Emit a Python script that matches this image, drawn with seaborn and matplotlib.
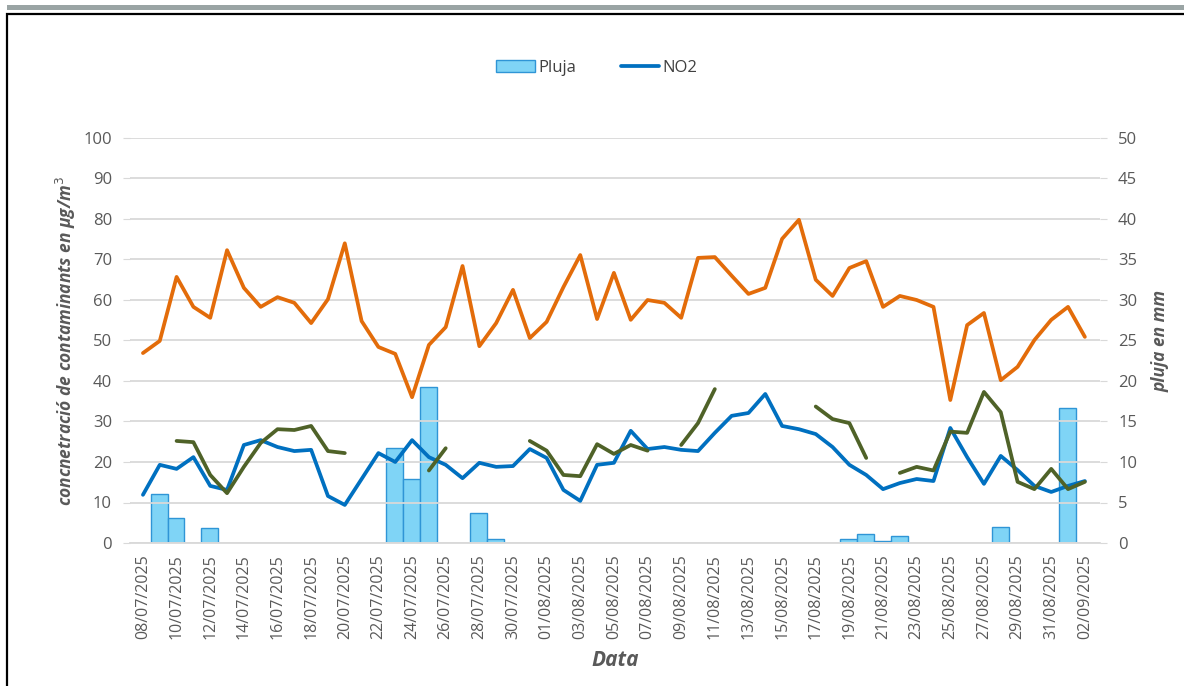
import numpy as np
import pandas as pd
import seaborn as sns
import matplotlib.pyplot as plt
from matplotlib.patches import Rectangle, Patch
from matplotlib.lines import Line2D

# dades diàries 08/07/2025 - 02/09/2025
dates = pd.date_range('2025-07-08', '2025-09-02', freq='D')
etiquetes = [d.strftime('%d/%m/%Y') for d in dates]

o3 = [46.9, 49.9, 65.7, 58.3, 55.6, 72.3, 63.0, 58.3, 60.7, 59.3,
      54.3, 60.2, 74.0, 54.8, 48.4, 46.7, 36.0, 48.9, 53.3, 68.4,
      48.6, 54.3, 62.5, 50.6, 54.6, 63.2, 71.1, 55.3, 66.7, 55.1,
      60.0, 59.3, 55.6, 70.4, 70.6, 66.0, 61.5, 63.0, 75.1, 79.8,
      65.0, 61.0, 67.9, 69.6, 58.3, 61.0, 60.0, 58.3, 35.3, 53.8,
      56.8, 40.2, 43.5, 50.1, 55.1, 58.3, 50.9]

no2 = [11.9, 19.3, 18.3, 21.2, 14.1, 13.1, 24.2, 25.4, 23.7, 22.7,
       23.0, 11.6, 9.4, 15.8, 22.2, 20.0, 25.4, 21.2, 19.3, 16.0,
       19.8, 18.8, 19.0, 23.2, 21.0, 13.1, 10.4, 19.3, 19.8, 27.7,
       23.2, 23.7, 23.0, 22.7, 27.2, 31.4, 32.1, 36.8, 28.9, 28.1,
       26.9, 23.7, 19.3, 16.8, 13.3, 14.8, 15.8, 15.3, 28.4, 21.2,
       14.6, 21.5, 18.0, 14.1, 12.6, 14.1, 15.3]

nan = np.nan
pm10 = [nan, nan, 25.2, 24.9, 16.8, 12.3, 18.8, 24.7, 28.1, 27.9,
        28.9, 22.7, 22.2, nan, nan, nan, nan, 17.9, 23.4, nan,
        nan, nan, nan, 25.2, 22.8, 16.8, 16.5, 24.4, 22.0, 24.2,
        22.8, nan, 24.2, 29.6, 38.0, nan, nan, nan, nan, nan,
        33.7, 30.6, 29.6, 21.0, nan, 17.3, 18.8, 17.9, 27.5, 27.2,
        37.3, 32.3, 15.1, 13.3, 18.3, 13.3, 15.1]

pluja = [0, 6.0, 3.05, 0, 1.9, 0, 0, 0, 0, 0,
         0, 0, 0, 0, 0, 11.7, 7.9, 19.2, 0, 0,
         3.7, 0.45, 0, 0, 0, 0, 0, 0, 0, 0,
         0, 0, 0, 0, 0, 0, 0, 0, 0, 0,
         0, 0, 0.5, 1.07, 0.25, 0.86, 0, 0, 0, 0,
         0, 1.94, 0, 0, 0, 16.7, 0]

dia = np.arange(len(dates))
df = pd.DataFrame({'dia': dia, 'o3': o3, 'no2': no2, 'pm10': pm10, 'pluja': pluja})
# trams per trencar la línia on falten dades
df['tram'] = df['pm10'].isna().cumsum()

gris = '#595959'
sns.set_style('white')
plt.rcParams['font.family'] = ['Open Sans', 'DejaVu Sans']

fig = plt.figure(figsize=(11.84, 6.86), dpi=100)
ax = fig.add_axes([130 / 1184, 1 - 543 / 686, 970 / 1184, 405 / 686])
ax2 = ax.twinx()

# pluja (eix dret)
pl = df[df['pluja'] > 0]
ax2.bar(pl['dia'] - 0.03, pl['pluja'], width=1.0, color='#7fd4f6',
        edgecolor='#2f95d6', linewidth=1.0, zorder=1)

lw = 2.7
sns.lineplot(data=df, x='dia', y='o3', color='#e36c0a', linewidth=lw, ax=ax, zorder=3)
sns.lineplot(data=df, x='dia', y='no2', color='#0070c0', linewidth=lw, ax=ax, zorder=3)
sns.lineplot(data=df.dropna(subset=['pm10']), x='dia', y='pm10', units='tram',
             estimator=None, color='#4f6228', linewidth=lw, ax=ax, zorder=3)

# l'eix de línies per sobre de les barres
ax.set_zorder(ax2.get_zorder() + 1)
ax.patch.set_visible(False)

ax.set_xlim(-0.77, 56.9)
ax.set_ylim(0, 100)
ax2.set_ylim(0, 50)
ax.set_yticks(range(0, 101, 10))
ax2.set_yticks(range(0, 51, 5))
ax.set_xticks(dia[::2])
ax.set_xticklabels(etiquetes[::2], rotation=90)

ax.yaxis.grid(True, color='#d9d9d9', linewidth=1.3)
ax.set_axisbelow(False)
ax2.yaxis.grid(False)
for a in (ax, ax2):
    for s in a.spines.values():
        s.set_visible(False)
ax.spines['bottom'].set_visible(True)
ax.spines['bottom'].set_color('#d9d9d9')
ax.spines['bottom'].set_linewidth(1.3)

ax.tick_params(axis='y', colors='#d9d9d9', labelcolor=gris, labelsize=12, length=5, pad=8)
ax2.tick_params(axis='y', colors='#d9d9d9', labelcolor=gris, labelsize=12, length=5, pad=8)
ax.tick_params(axis='x', colors='#d9d9d9', labelcolor=gris, labelsize=11.5, length=4, pad=4)

ax.set_xlabel('Data', fontsize=15, fontstyle='italic', fontweight='bold', color=gris, labelpad=8)
ax.set_ylabel('concnetració de contaminants en µg/m$^3$', fontsize=12.5, fontstyle='italic',
              fontweight='bold', color=gris, labelpad=4)
ax2.set_ylabel('pluja en mm', fontsize=12.5, fontstyle='italic', fontweight='bold',
               color=gris, labelpad=10)

handles = [Patch(facecolor='#7fd4f6', edgecolor='#2f95d6', linewidth=1.0),
           Line2D([], [], color='#0070c0', linewidth=lw)]
fig.legend(handles, ['Pluja', 'NO2'], loc='center', bbox_to_anchor=(597 / 1184, 1 - 68 / 686),
           ncol=2, frameon=False, fontsize=12, columnspacing=2.7, handlelength=2.3,
           handletextpad=0.2, labelcolor='#404040')

# marc del gràfic
fig.patches.append(Rectangle((7 / 1184, -0.05), 1.2, 1 - 14 / 686 + 0.05,
                             transform=fig.transFigure, fill=False,
                             edgecolor='black', linewidth=1.6))
fig.patches.append(Rectangle((7 / 1184, 1 - 10 / 686), 1.0, 5 / 686,
                             transform=fig.transFigure, color='#9aa4a4', linewidth=0))

fig.savefig('out.png', dpi=100)
